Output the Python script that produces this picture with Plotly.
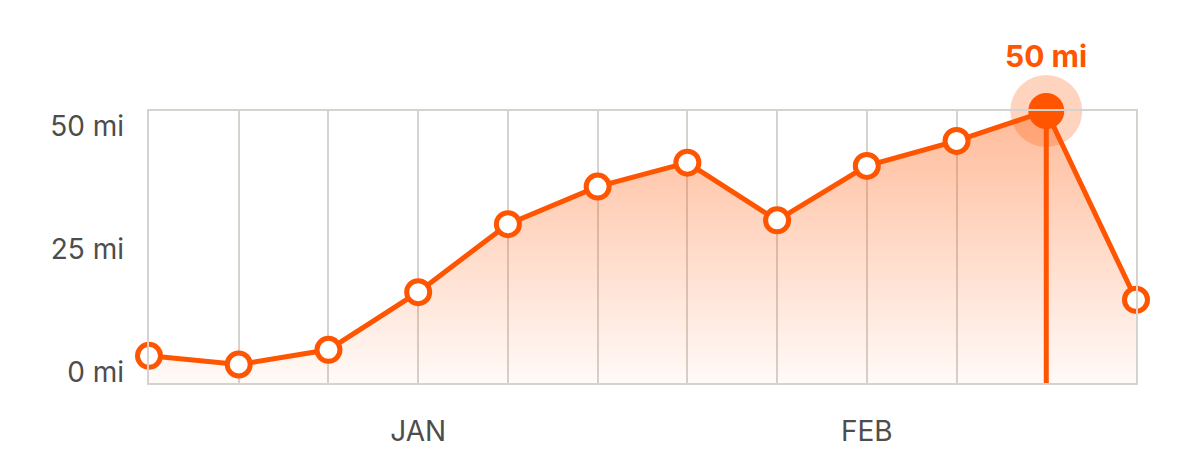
import plotly.graph_objects as go

# ---- data ----
x_index = list(range(12))
miles = [5.0, 3.4, 6.1, 16.7, 29.2, 36.1, 40.5, 29.9, 39.9, 44.5, 50.0, 15.3]
x_tick_labels = ["", "", "", "JAN", "", "", "", "", "FEB", "", "", ""]
y_tick_vals = [0, 25, 50]
y_tick_labels = ["0 mi", "25 mi", "50 mi"]
peak_index = 10

ORANGE = "#FF5500"
GRID = "#d6d3ce"
TEXT = "#4d4d4d"
FONT = "Inter"

peak_x = x_index[peak_index]
peak_y = miles[peak_index]

fig = go.Figure()

# area + line
fig.add_trace(go.Scatter(
    x=x_index, y=miles, mode="lines",
    line=dict(color=ORANGE, width=5),
    fill="tozeroy",
    fillgradient=dict(type="vertical", start=0, stop=50,
                      colorscale=[[0, "rgba(255,85,0,0.03)"], [1, "rgba(255,85,0,0.40)"]]),
    cliponaxis=False, hoverinfo="skip", showlegend=False,
))

# vertical marker line at peak
fig.add_trace(go.Scatter(
    x=[peak_x, peak_x], y=[0, peak_y], mode="lines",
    line=dict(color=ORANGE, width=5),
    cliponaxis=False, hoverinfo="skip", showlegend=False,
))

# regular points (all except peak)
pts_x = [x for i, x in enumerate(x_index) if i != peak_index]
pts_y = [y for i, y in enumerate(miles) if i != peak_index]
fig.add_trace(go.Scatter(
    x=pts_x, y=pts_y, mode="markers",
    marker=dict(size=23, color="white", line=dict(color=ORANGE, width=5)),
    cliponaxis=False, hoverinfo="skip", showlegend=False,
))

# halo + peak dot
fig.add_trace(go.Scatter(
    x=[peak_x], y=[peak_y], mode="markers",
    marker=dict(size=72, color="rgba(255,85,0,0.25)", line=dict(width=0)),
    cliponaxis=False, hoverinfo="skip", showlegend=False,
))
fig.add_trace(go.Scatter(
    x=[peak_x], y=[peak_y], mode="markers",
    marker=dict(size=36, color=ORANGE, line=dict(width=0)),
    cliponaxis=False, hoverinfo="skip", showlegend=False,
))

# dummy trace to anchor label axis
fig.add_trace(go.Scatter(
    x=[x_index[0]], y=[0], yaxis="y2", mode="markers",
    marker=dict(opacity=0), hoverinfo="skip", showlegend=False,
))

fig.add_annotation(
    x=peak_x, y=peak_y, text=f"<b>{peak_y:.0f} mi</b>",
    showarrow=False, yshift=55, xanchor="center", yanchor="middle",
    font=dict(family=FONT, size=30, color=ORANGE),
)

fig.update_layout(
    width=1179, height=471,
    margin=dict(l=141, r=51, t=103, b=96),
    paper_bgcolor="white", plot_bgcolor="white",
    font=dict(family=FONT, size=26, color=TEXT),
    xaxis=dict(
        range=[x_index[0], x_index[-1]],
        tickvals=x_index, ticktext=x_tick_labels,
        showgrid=True, gridcolor=GRID, gridwidth=2,
        showline=True, linecolor=GRID, linewidth=2, mirror=True,
        zeroline=False, ticks="", ticklabelstandoff=22,
        tickfont=dict(family=FONT, size=28, color=TEXT),
        fixedrange=True,
    ),
    yaxis=dict(
        range=[0, 50],
        showgrid=False, showticklabels=False,
        showline=True, linecolor=GRID, linewidth=2, mirror=True,
        zeroline=False, ticks="", fixedrange=True,
    ),
    yaxis2=dict(
        overlaying="y", side="left",
        range=[-2.19, 53.04],
        tickvals=y_tick_vals, ticktext=y_tick_labels,
        showgrid=False, showline=False, zeroline=False, ticks="",
        ticklabelstandoff=24,
        tickfont=dict(family=FONT, size=28, color=TEXT),
        fixedrange=True,
    ),
)

fig.write_html("out.html")
